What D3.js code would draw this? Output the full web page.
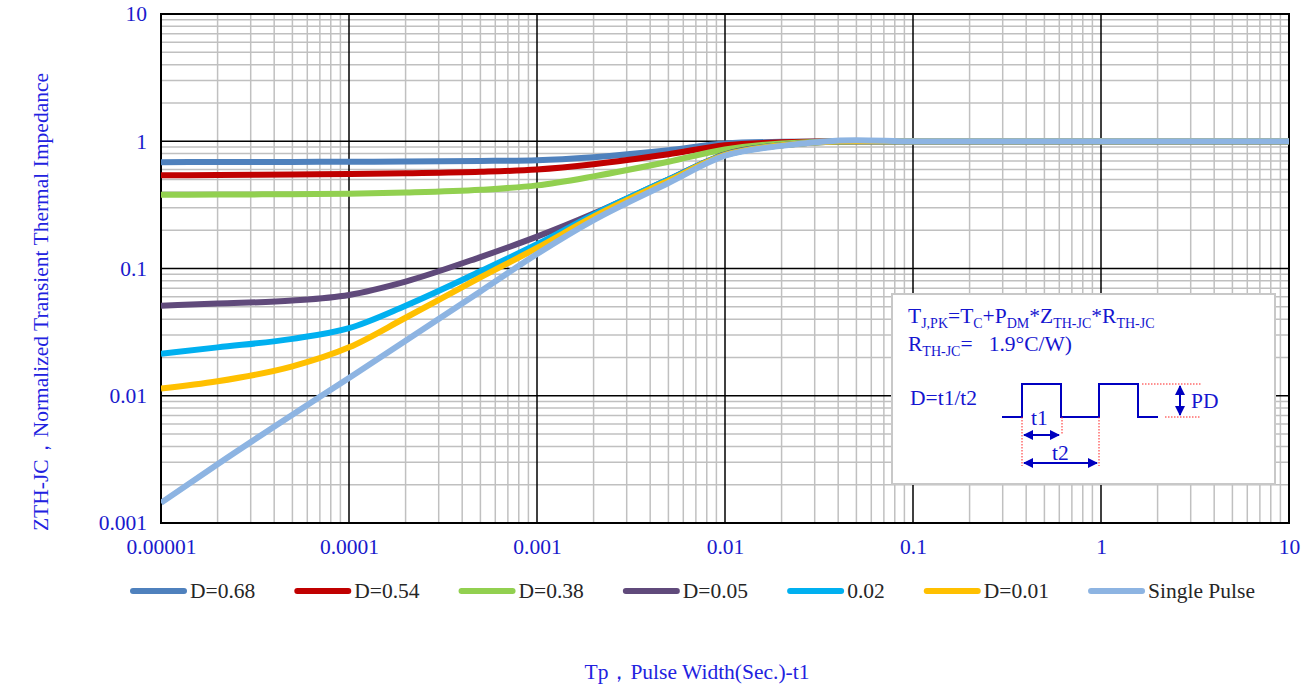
<!DOCTYPE html>
<html>
<head>
<meta charset="utf-8">
<script src="https://cdn.jsdelivr.net/npm/d3@7"></script>
<style>
  body { margin: 0; background: #fff; }
  svg { display: block; font-family: "Times New Roman", "Liberation Serif", serif; }
</style>
</head>
<body>
<svg id="chart" width="1307" height="688"></svg>
<script>
// pulse width (s)
var tp = [1e-5, 2e-5, 5e-5, 1e-4, 2e-4, 5e-4, 1e-3, 2e-3, 5e-3, 1e-2, 2e-2, 5e-2, 0.1, 1, 10];

var seriesNames = ["D=0.68", "D=0.54", "D=0.38", "D=0.05", "0.02", "D=0.01", "Single Pulse"];
var seriesColors = ["#4f81bd", "#c00000", "#92d050", "#604a7b", "#00b0f0", "#ffc000", "#8db4e2"];

var d068 = [0.685, 0.686, 0.688, 0.69, 0.694, 0.70, 0.71, 0.75, 0.85, 0.96, 0.99, 1.0, 1.0, 1.0, 1.0];
var d054 = [0.54, 0.543, 0.548, 0.552, 0.56, 0.575, 0.60, 0.66, 0.79, 0.93, 0.98, 1.0, 1.0, 1.0, 1.0];
var d038 = [0.38, 0.381, 0.384, 0.387, 0.395, 0.415, 0.45, 0.53, 0.69, 0.86, 0.96, 1.0, 1.0, 1.0, 1.0];
var d005 = [0.051, 0.053, 0.056, 0.062, 0.079, 0.123, 0.178, 0.27, 0.5, 0.79, 0.93, 1.0, 1.0, 1.0, 1.0];
var d002 = [0.0214, 0.024, 0.028, 0.034, 0.051, 0.095, 0.155, 0.265, 0.5, 0.78, 0.93, 1.0, 1.0, 1.0, 1.0];
var d001 = [0.0114, 0.013, 0.017, 0.024, 0.041, 0.085, 0.145, 0.255, 0.49, 0.78, 0.93, 1.0, 1.0, 1.0, 1.0];
var single = [0.00144, 0.0029, 0.0071, 0.0138, 0.027, 0.066, 0.13, 0.24, 0.47, 0.77, 0.92, 1.02, 1.0, 1.0, 1.0];
var seriesValues = [d068, d054, d038, d005, d002, d001, single];

var xTicks = [1e-5, 1e-4, 1e-3, 1e-2, 0.1, 1, 10];
var xTickLabels = ["0.00001", "0.0001", "0.001", "0.01", "0.1", "1", "10"];
var yTicks = [0.001, 0.01, 0.1, 1, 10];
var yTickLabels = ["0.001", "0.01", "0.1", "1", "10"];

(function () {
    var svg = d3.select("#chart");
    var mLeft = 161, mRight = 1289, mTop = 14, mBottom = 523;
    var blue = "#1a1acc";
    var fs = 21.5;

    var x = d3.scaleLog().domain([1e-5, 10]).range([mLeft, mRight]);
    var y = d3.scaleLog().domain([0.001, 10]).range([mBottom, mTop]);

    // grid lines: minor first, then the decades
    var minorX = [], minorY = [];
    xTicks.slice(0, -1).forEach(function (d) {
        for (var k = 2; k <= 9; k++) minorX.push(d * k);
    });
    yTicks.slice(0, -1).forEach(function (d) {
        for (var k = 2; k <= 9; k++) minorY.push(d * k);
    });

    var grid = svg.append("g");
    grid.selectAll(".mx").data(minorX).enter().append("line")
        .attr("x1", x).attr("x2", x).attr("y1", mTop).attr("y2", mBottom)
        .attr("stroke", "#c0c0c0").attr("stroke-width", 1.5);
    grid.selectAll(".my").data(minorY).enter().append("line")
        .attr("y1", y).attr("y2", y).attr("x1", mLeft).attr("x2", mRight)
        .attr("stroke", "#c0c0c0").attr("stroke-width", 1.5);
    grid.selectAll(".Mx").data(xTicks).enter().append("line")
        .attr("x1", x).attr("x2", x).attr("y1", mTop).attr("y2", mBottom)
        .attr("stroke", "#000").attr("stroke-width", 1.5);
    grid.selectAll(".My").data(yTicks).enter().append("line")
        .attr("y1", y).attr("y2", y).attr("x1", mLeft).attr("x2", mRight)
        .attr("stroke", "#000").attr("stroke-width", 1.5);
    svg.append("rect")
        .attr("x", mLeft).attr("y", mTop).attr("width", mRight - mLeft).attr("height", mBottom - mTop)
        .attr("fill", "none").attr("stroke", "#000").attr("stroke-width", 2);

    // axes (labels only)
    var xAxis = svg.append("g")
        .attr("transform", "translate(0," + (mBottom + 12) + ")")
        .call(d3.axisBottom(x).tickValues(xTicks).tickSize(0)
            .tickFormat(function (d, i) { return xTickLabels[i]; }));
    xAxis.attr("font-family", null).attr("font-size", fs);
    xAxis.select(".domain").remove();
    xAxis.selectAll("text").attr("fill", blue).attr("y", 0).attr("dy", "0.9em");

    var yAxis = svg.append("g")
        .attr("transform", "translate(" + (mLeft - 14) + ",0)")
        .call(d3.axisLeft(y).tickValues(yTicks).tickSize(0)
            .tickFormat(function (d, i) { return yTickLabels[i]; }));
    yAxis.attr("font-family", null).attr("font-size", fs);
    yAxis.select(".domain").remove();
    yAxis.selectAll("text").attr("fill", blue).attr("x", 0);

    // curves
    svg.append("clipPath").attr("id", "plotClip").append("rect")
        .attr("x", mLeft).attr("y", mTop).attr("width", mRight - mLeft).attr("height", mBottom - mTop);

    var line = d3.line()
        .x(function (d) { return x(d[0]); })
        .y(function (d) { return y(d[1]); })
        .curve(d3.curveMonotoneX);

    svg.append("g").attr("clip-path", "url(#plotClip)")
        .selectAll("path").data(seriesValues).enter().append("path")
        .attr("d", function (vals) { return line(vals.map(function (v, i) { return [tp[i], v]; })); })
        .attr("fill", "none")
        .attr("stroke", function (d, i) { return seriesColors[i]; })
        .attr("stroke-width", 6)
        .attr("stroke-linejoin", "round");

    // axis titles
    svg.append("text")
        .attr("x", 697).attr("y", 679)
        .attr("text-anchor", "middle").attr("font-size", fs).attr("fill", "#2222e0")
        .text("Tp，Pulse Width(Sec.)-t1");
    svg.append("text")
        .attr("transform", "translate(48,302) rotate(-90)")
        .attr("text-anchor", "middle").attr("font-size", fs).attr("fill", "#2222e0")
        .text("ZTH-JC，Normalized Transient Thermal Impedance");

    // legend
    var legend = svg.append("g").attr("transform", "translate(130,591)");
    var lx = 0;
    seriesNames.forEach(function (name, i) {
        var item = legend.append("g").attr("transform", "translate(" + lx + ",0)");
        item.append("line")
            .attr("x1", 3).attr("x2", 54).attr("y1", 0).attr("y2", 0)
            .attr("stroke", seriesColors[i]).attr("stroke-width", 6).attr("stroke-linecap", "round");
        var t = item.append("text")
            .attr("x", 60).attr("y", 7).attr("font-size", fs).attr("fill", "#262626")
            .text(name);
        lx += 60 + t.node().getComputedTextLength() + 39;
    });

    // annotation box
    var box = svg.append("g").attr("transform", "translate(892,294)");
    box.append("rect")
        .attr("width", 383).attr("height", 190)
        .attr("fill", "#fff").attr("stroke", "#c8c8c8").attr("stroke-width", 2);

    var ink = "#1515d0";
    function richText(parts, tx, ty) {
        var t = box.append("text").attr("x", tx).attr("y", ty).attr("font-size", fs)
            .attr("fill", ink).attr("xml:space", "preserve");
        var shift = 0;
        parts.forEach(function (p) {
            var s = p[1] ? 5 : 0;
            t.append("tspan").attr("font-size", p[1] ? 14 : fs)
                .attr("dy", s - shift).text(p[0]);
            shift = s;
        });
    }
    richText([["T", 0], ["J,PK", 1], ["=T", 0], ["C", 1], ["+P", 0], ["DM", 1],
        ["*Z", 0], ["TH-JC", 1], ["*R", 0], ["TH-JC", 1]], 16, 29);
    richText([["R", 0], ["TH-JC", 1], ["=   1.9°C/W)", 0]], 16, 57);

    box.append("text").attr("x", 18).attr("y", 111).attr("font-size", fs).attr("fill", ink).text("D=t1/t2");

    // pulse train
    var wave = [[110, 123], [130, 123], [130, 90], [169, 90], [169, 123], [207, 123],
        [207, 90], [246, 90], [246, 123], [266, 123]];
    box.append("path").attr("d", d3.line()(wave))
        .attr("fill", "none").attr("stroke", "#0000c0").attr("stroke-width", 2);

    var dotted = [[[250, 90], [309, 90]], [[273, 123], [308, 123]],
        [[130, 123], [130, 172]], [[170, 123], [170, 141]], [[207, 123], [207, 172]]];
    box.selectAll(".dot").data(dotted).enter().append("path")
        .attr("d", function (d) { return d3.line()(d); })
        .attr("stroke", "#ff2020").attr("stroke-width", 1).attr("stroke-dasharray", "1.5,1.5");

    box.append("defs").append("marker")
        .attr("id", "arr").attr("viewBox", "0 0 10 10").attr("refX", 9).attr("refY", 5)
        .attr("markerWidth", 5).attr("markerHeight", 5).attr("orient", "auto-start-reverse")
        .append("path").attr("d", "M0,0L10,5L0,10Z").attr("fill", "#0000c0");

    var arrows = [[[132, 141], [167, 141]], [[132, 169], [205, 169]], [[288, 92], [288, 121]]];
    box.selectAll(".arrow").data(arrows).enter().append("path")
        .attr("d", function (d) { return d3.line()(d); })
        .attr("stroke", "#0000c0").attr("stroke-width", 2)
        .attr("marker-start", "url(#arr)").attr("marker-end", "url(#arr)");

    box.append("text").attr("x", 139).attr("y", 131).attr("font-size", fs).attr("fill", ink).text("t1");
    box.append("text").attr("x", 160).attr("y", 166).attr("font-size", fs).attr("fill", ink).text("t2");
    box.append("text").attr("x", 299).attr("y", 114).attr("font-size", fs).attr("fill", ink).text("PD");
})();
</script>
</body>
</html>
